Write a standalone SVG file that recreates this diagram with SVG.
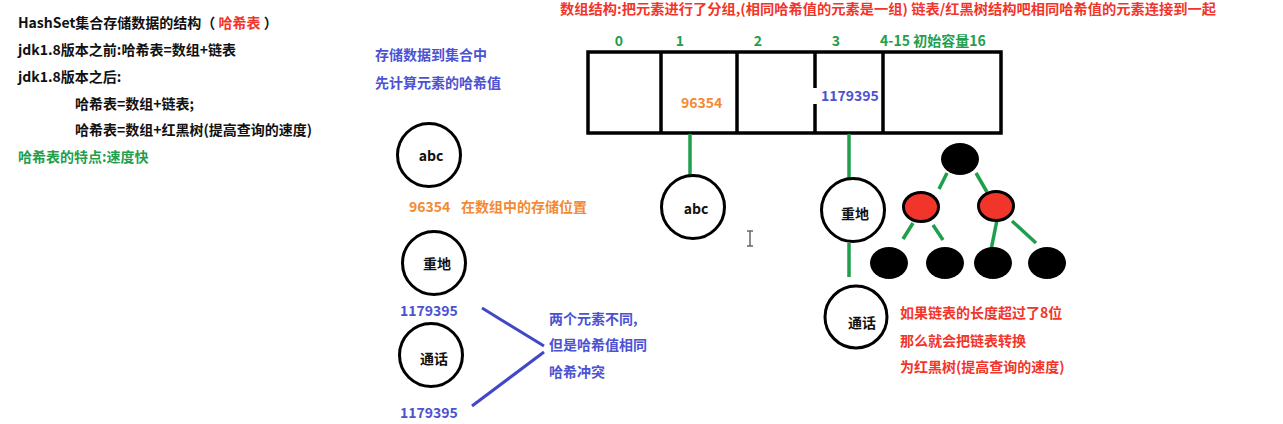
<svg xmlns="http://www.w3.org/2000/svg" width="1283" height="424" viewBox="0 0 1283 424">
<style>
text{font-family:"Noto Sans CJK SC","Liberation Sans",sans-serif;font-weight:bold;font-size:14px}
.k{fill:#111}
.r{fill:#f2352a}
.g{fill:#1f9e4c}
.b{fill:#4c52d2}
.o{fill:#f28a32}
.c{fill:#fff;stroke:#000;stroke-width:3}
.gl{stroke:#1f9e4c;stroke-width:3.5;fill:none}
.bl{stroke:#4048c8;stroke-width:3;fill:none}
.bn{fill:#000}
.rn{fill:#f2352a;stroke:#000;stroke-width:3}
.m{text-anchor:middle}
</style>
<rect width="1283" height="424" fill="#fff"/>

<g id="notes-left">
<text class="k" x="18" y="28">HashSet集合存储数据的结构（ <tspan class="r">哈希表</tspan> ）</text>
<text class="k" x="18" y="55">jdk1.8版本之前:哈希表=数组+链表</text>
<text class="k" x="18" y="82">jdk1.8版本之后:</text>
<text class="k" x="75" y="109">哈希表=数组+链表;</text>
<text class="k" x="75" y="135">哈希表=数组+红黑树(提高查询的速度)</text>
<text class="g" x="18" y="162">哈希表的特点:速度快</text>
</g>

<g id="title">
<text class="r" x="560" y="14" style="font-size:13.5px" textLength="656" lengthAdjust="spacingAndGlyphs">数组结构:把元素进行了分组,(相同哈希值的元素是一组) 链表/红黑树结构吧相同哈希值的元素连接到一起</text>
</g>

<g id="notes-middle">
<text class="b" x="375" y="60">存储数据到集合中</text>
<text class="b" x="375" y="88">先计算元素的哈希值</text>
<text class="o" x="409" y="212">96354</text>
<text class="o" x="461" y="212">在数组中的存储位置</text>
<text class="b" x="400" y="316">1179395</text>
<text class="b" x="400" y="418">1179395</text>
<text class="b" x="549" y="324">两个元素不同,</text>
<text class="b" x="549" y="350">但是哈希值相同</text>
<text class="b" x="549" y="377">哈希冲突</text>
</g>

<g id="array">
<rect x="588" y="52" width="413" height="81" fill="#fff" stroke="#000" stroke-width="3.5"/>
<line x1="661" y1="52" x2="661" y2="133" stroke="#000" stroke-width="3.5"/>
<line x1="737" y1="52" x2="737" y2="133" stroke="#000" stroke-width="3.5"/>
<line x1="815" y1="52" x2="815" y2="133" stroke="#000" stroke-width="3.5"/>
<line x1="883" y1="52" x2="883" y2="133" stroke="#000" stroke-width="3.5"/>
<text class="g m" x="619" y="46">0</text>
<text class="g m" x="680" y="46">1</text>
<text class="g m" x="758" y="46">2</text>
<text class="g m" x="836" y="46">3</text>
<text class="g" x="880" y="46">4-15 初始容量16</text>
<text class="o" x="681" y="108">96354</text>
<rect x="813" y="88" width="6" height="16" fill="#fff"/>
<text class="b" x="821" y="101">1179395</text>
</g>

<g id="connectors">
<line class="gl" x1="690" y1="134" x2="690" y2="176"/>
<line class="gl" x1="849" y1="134" x2="849" y2="179"/>
<line class="gl" x1="849" y1="243" x2="849" y2="277"/>
<line class="gl" x1="947" y1="173" x2="939" y2="189"/>
<line class="gl" x1="976" y1="173" x2="987" y2="192"/>
<line class="gl" x1="913" y1="223" x2="903" y2="239"/>
<line class="gl" x1="933" y1="225" x2="943" y2="240"/>
<line class="gl" x1="997" y1="220" x2="991" y2="250"/>
<line class="gl" x1="1012" y1="221" x2="1036" y2="243"/>
<line class="bl" x1="482" y1="308" x2="544" y2="346"/>
<line class="bl" x1="544" y1="352" x2="472" y2="406"/>
</g>

<g id="node-abc-left"><circle class="c" cx="429" cy="155" r="31.5"/><text class="k m" x="431" y="161">abc</text></g>
<g id="node-zhongdi-left"><circle class="c" cx="434" cy="263" r="31.5"/><text class="k m" x="437" y="269">重地</text></g>
<g id="node-tonghua-left"><circle class="c" cx="431" cy="355" r="31.5"/><text class="k m" x="434" y="364">通话</text></g>

<g id="node-abc"><circle class="c" cx="693" cy="207" r="31.5"/><text class="k m" x="696" y="214">abc</text></g>
<g id="node-zhongdi"><circle class="c" cx="853" cy="210" r="31.5"/><text class="k m" x="855" y="219">重地</text></g>
<g id="node-tonghua"><circle class="c" cx="856" cy="317" r="31"/><text class="k m" x="862" y="328">通话</text></g>

<g id="tree-root"><ellipse class="bn" cx="960" cy="159" rx="19" ry="16"/></g>
<g id="tree-red-left"><ellipse class="rn" cx="921" cy="207" rx="17.5" ry="14.5"/></g>
<g id="tree-red-right"><ellipse class="rn" cx="996" cy="206" rx="17.5" ry="14.5"/></g>
<g id="tree-leaf-1"><ellipse class="bn" cx="889" cy="263" rx="19" ry="16"/></g>
<g id="tree-leaf-2"><ellipse class="bn" cx="945" cy="263" rx="19" ry="16"/></g>
<g id="tree-leaf-3"><ellipse class="bn" cx="993" cy="263" rx="19" ry="16"/></g>
<g id="tree-leaf-4"><ellipse class="bn" cx="1047" cy="263" rx="19" ry="16"/></g>

<g id="notes-right">
<text class="r" x="900" y="318">如果链表的长度超过了8位</text>
<text class="r" x="900" y="346">那么就会把链表转换</text>
<text class="r" x="900" y="372">为红黑树(提高查询的速度)</text>
</g>

<g id="cursor" stroke="#666" stroke-width="1.5" fill="none">
<line x1="750" y1="231" x2="750" y2="246"/>
<line x1="747" y1="231" x2="753" y2="231"/>
<line x1="747" y1="246" x2="753" y2="246"/>
</g>
</svg>
